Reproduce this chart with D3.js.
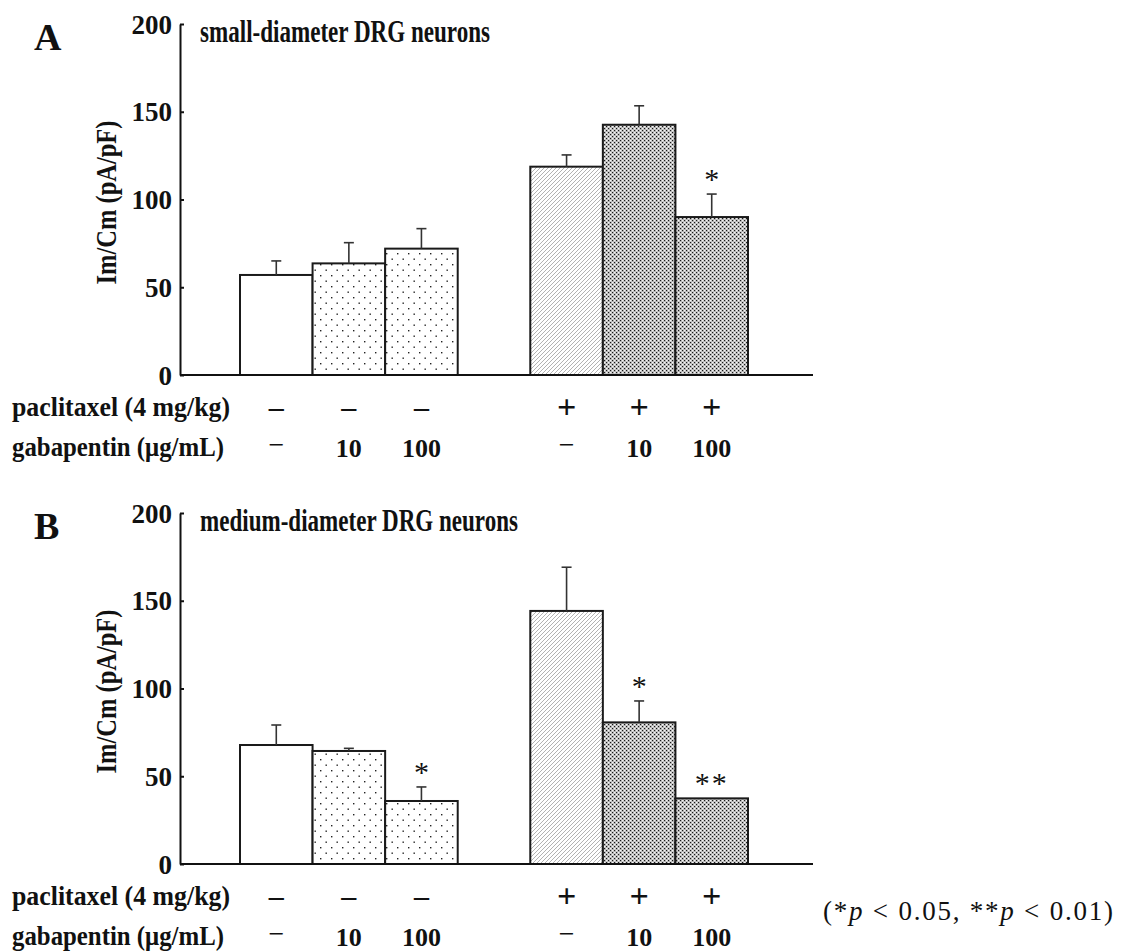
<!DOCTYPE html>
<html><head><meta charset="utf-8">
<script src="https://cdn.jsdelivr.net/npm/d3@7"></script>
<style>
html,body{margin:0;padding:0;background:#fff;}
svg{display:block;font-family:"Liberation Serif","Times New Roman",serif;}
svg text{font-family:"Liberation Serif","Times New Roman",serif;}
</style></head>
<body><svg id="chart" width="1125" height="952"></svg>
<script>
// ---- data ----
const categories = ["control","GBP10","GBP100","PTX","PTX+GBP10","PTX+GBP100"];
const paclitaxelLabels = ["–","–","–","+","+","+"];
const gabapentinLabels = ["−","10","100","−","10","100"];
const smallMeans = [57.0, 63.6, 72.0, 118.7, 142.6, 90.0];
const smallSEM   = [8.0, 11.8, 11.4, 6.7, 10.8, 13.1];
const smallSig   = ["","","","","","*"];
const mediumMeans = [67.8, 64.4, 35.9, 144.2, 80.7, 37.4];
const mediumSEM   = [11.4, 1.5, 8.0, 24.9, 12.2, 0];
const mediumSig   = ["","","*","","*","**"];
const yTicks = [0, 50, 100, 150, 200];
const panelLetters = ["A","B"];
const panelTitles = ["small-diameter DRG neurons","medium-diameter DRG neurons"];
const yLabel = "Im/Cm (pA/pF)";
const rowLabels = ["paclitaxel (4 mg/kg)","gabapentin (μg/mL)"];

const svg = d3.select("#chart");
const defs = svg.append("defs");

// patterns
const pDots = defs.append("pattern").attr("id","dots").attr("patternUnits","userSpaceOnUse")
  .attr("width",11).attr("height",11).attr("x",243).attr("y",0);
pDots.append("rect").attr("width",11).attr("height",11).attr("fill","#fff");
pDots.append("rect").attr("x",0).attr("y",0).attr("width",1.4).attr("height",1.4).attr("fill","#222");
pDots.append("rect").attr("x",5.5).attr("y",5.5).attr("width",1.4).attr("height",1.4).attr("fill","#222");

const pHatch = defs.append("pattern").attr("id","hatch").attr("patternUnits","userSpaceOnUse")
  .attr("width",4).attr("height",4);
pHatch.append("rect").attr("width",4).attr("height",4).attr("fill","#fff");
pHatch.append("path").attr("d","M-1,1 L1,-1 M0,4 L4,0 M3,5 L5,3")
  .attr("stroke","#909090").attr("stroke-width",0.7);

const pCross = defs.append("pattern").attr("id","cross").attr("patternUnits","userSpaceOnUse")
  .attr("width",4).attr("height",4);
pCross.append("rect").attr("width",4).attr("height",4).attr("fill","#bcbcbc");
pCross.append("rect").attr("x",0).attr("y",0).attr("width",1.1).attr("height",1.1).attr("fill","#1a1a1a");
pCross.append("rect").attr("x",2).attr("y",2).attr("width",1.1).attr("height",1.1).attr("fill","#1a1a1a");
pCross.append("rect").attr("x",2).attr("y",0).attr("width",1.3).attr("height",1.3).attr("fill","#f6f6f6");
pCross.append("rect").attr("x",0).attr("y",2).attr("width",1.3).attr("height",1.3).attr("fill","#f6f6f6");

const fills = ["#fff","url(#dots)","url(#dots)","url(#hatch)","url(#cross)","url(#cross)"];

const bandDomain = ["control","GBP10","GBP100","__gap","PTX","PTX+GBP10","PTX+GBP100"];
const x = d3.scaleBand().domain(bandDomain).range([240, 748]).padding(0);

const panels = [
  {means: smallMeans, sem: smallSEM, sig: smallSig, top: 24, bottom: 375, letterY: 50},
  {means: mediumMeans, sem: mediumSEM, sig: mediumSig, top: 513, bottom: 864, letterY: 539}
];

panels.forEach((p, pi) => {
  const g = svg.append("g");
  const y = d3.scaleLinear().domain([0, 200]).range([p.bottom, p.top]);

  // bars
  g.selectAll("rect.bar").data(categories).join("rect")
    .attr("x", d => x(d)).attr("width", x.bandwidth())
    .attr("y", (d,i) => y(p.means[i])).attr("height", (d,i) => y(0) - y(p.means[i]))
    .attr("fill", (d,i) => fills[i]).attr("stroke","#1a1a1a").attr("stroke-width",2);

  // error bars
  categories.forEach((c,i) => {
    if (!p.sem[i]) return;
    const cx = x(c) + x.bandwidth()/2;
    g.append("line").attr("x1",cx).attr("x2",cx).attr("y1",y(p.means[i])).attr("y2",y(p.means[i]+p.sem[i]))
      .attr("stroke","#333").attr("stroke-width",1.6);
    g.append("line").attr("x1",cx-5).attr("x2",cx+5).attr("y1",y(p.means[i]+p.sem[i])).attr("y2",y(p.means[i]+p.sem[i]))
      .attr("stroke","#333").attr("stroke-width",1.6);
  });

  // significance
  categories.forEach((c,i) => {
    if (!p.sig[i]) return;
    const cx = x(c) + x.bandwidth()/2;
    const cy = y(p.means[i] + p.sem[i]) - 19;
    g.append("text").attr("x",cx).attr("y",cy+14).attr("text-anchor","middle")
      .attr("font-size",30).attr("fill","#111")
      .attr("letter-spacing", p.sig[i].length>1 ? 2 : 0)
      .text(p.sig[i]);
  });

  // y axis
  const yAxis = d3.axisLeft(y).tickValues(yTicks).tickSize(-4).tickPadding(8).tickSizeOuter(0);
  const ya = g.append("g").attr("transform","translate(180,0)").call(yAxis);
  ya.attr("font-family", null);
  ya.select(".domain").attr("stroke","#111").attr("stroke-width",2);
  ya.selectAll(".tick line").attr("stroke","#111").attr("stroke-width",2);
  ya.selectAll(".tick text").attr("font-weight","bold")
    .attr("font-size",27).attr("fill","#111").attr("dy","0.34em");

  // x baseline
  g.append("line").attr("x1",180).attr("x2",813).attr("y1",y(0)).attr("y2",y(0))
    .attr("stroke","#111").attr("stroke-width",2);

  // y label
  g.append("text").attr("transform",`translate(116,${(p.top+p.bottom)/2 + 3}) rotate(-90)`)
    .attr("text-anchor","middle").attr("font-weight","bold").attr("font-size",29).attr("fill","#111")
    .attr("textLength",164).attr("lengthAdjust","spacingAndGlyphs")
    .text(yLabel);

  // panel letter
  g.append("text").attr("x",34).attr("y",p.letterY).attr("font-weight","bold").attr("font-size",38)
    .attr("fill","#111").text(panelLetters[pi]);

  // title
  const tw = pi === 0 ? 290 : 318;
  g.append("text").attr("x",200).attr("y",p.top+18).attr("font-weight","bold").attr("font-size",31)
    .attr("fill","#111").attr("textLength",tw).attr("lengthAdjust","spacingAndGlyphs")
    .text(panelTitles[pi]);

  // row labels
  const b0 = p.bottom;
  g.append("text").attr("x",12).attr("y",b0+41).attr("font-weight","bold").attr("font-size",28)
    .attr("fill","#111").attr("textLength",218).attr("lengthAdjust","spacingAndGlyphs").text(rowLabels[0]);
  g.append("text").attr("x",12).attr("y",b0+81).attr("font-weight","bold").attr("font-size",28)
    .attr("fill","#111").attr("textLength",212).attr("lengthAdjust","spacingAndGlyphs").text(rowLabels[1]);

  categories.forEach((c,i) => {
    const cx = x(c) + x.bandwidth()/2;
    const isPlus = paclitaxelLabels[i] === "+";
    g.append("text").attr("x",cx).attr("y",b0+(isPlus ? 43 : 42)).attr("text-anchor","middle")
      .attr("font-weight","bold").attr("font-size",isPlus ? 34 : 30).attr("fill","#111").text(paclitaxelLabels[i]);
    const lab = gabapentinLabels[i];
    const isMinus = lab === "−";
    g.append("text").attr("x",cx).attr("y", isMinus ? b0+79 : b0+82).attr("text-anchor","middle")
      .attr("font-weight", isMinus ? "normal" : "bold").attr("font-size",isMinus ? 28 : 26)
      .attr("fill","#111").text(lab);
  });
});

// footnote
const fn = svg.append("text").attr("x",823).attr("y",920).attr("font-size",27).attr("fill","#111")
  .attr("textLength",290).attr("lengthAdjust","spacing");
fn.append("tspan").text("(*");
fn.append("tspan").attr("font-style","italic").text("p");
fn.append("tspan").text(" < 0.05, **");
fn.append("tspan").attr("font-style","italic").text("p");
fn.append("tspan").text(" < 0.01)");
</script>
</body></html>
